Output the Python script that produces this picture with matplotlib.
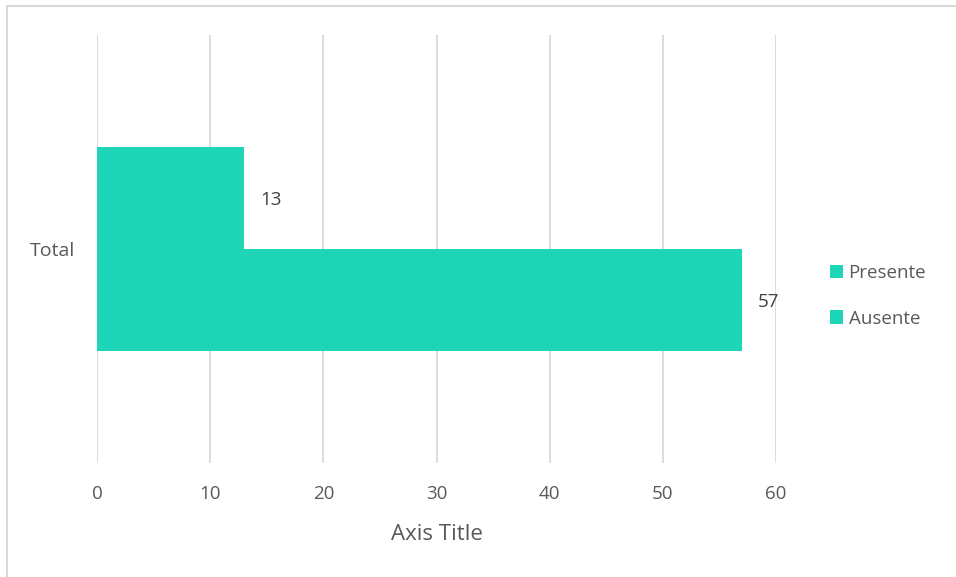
import matplotlib.pyplot as plt
from matplotlib.lines import Line2D
from matplotlib.patches import Patch

categories = ["Total"]
series_names = ["Presente", "Ausente"]
presente = [13]
ausente = [57]
xticks = [0, 10, 20, 30, 40, 50, 60]

bar_color = "#1fd5b7"
text_color = "#595959"
grid_color = "#d9d9d9"

plt.rcParams['font.family'] = ['Open Sans', 'DejaVu Sans']

W, H = 956, 577
fig = plt.figure(figsize=(W / 100, H / 100), dpi=100)

# plot area in pixels: x 97..776, y 35..463
left, right, top, bottom = 97, 776, 35, 463
ax = fig.add_axes([left / W, 1 - bottom / H, (right - left) / W, (bottom - top) / H])

bar_h = 0.238
offset = 0.119
ypos = [0.0]
ax.barh([y + offset for y in ypos], presente, height=bar_h, color=bar_color, zorder=3)
ax.barh([y - offset for y in ypos], ausente, height=bar_h, color=bar_color, zorder=3)

fs = 13.5
for y, v in zip(ypos, presente):
    ax.text(v + 1.4, y + offset - 0.005, str(v), va='center', ha='left', fontsize=fs, color="#404040")
for y, v in zip(ypos, ausente):
    ax.text(v + 1.4, y - offset - 0.005, str(v), va='center', ha='left', fontsize=fs, color="#404040")

ax.set_xlim(0, 60)
ax.set_ylim(-0.5, 0.5)
ax.set_xticks(xticks)
ax.set_xticklabels([str(t) for t in xticks], fontsize=fs, color=text_color)
ax.set_yticks(ypos)
ax.set_yticklabels(categories, fontsize=14, color=text_color)
ax.tick_params(axis='x', length=0, pad=16)
ax.tick_params(axis='y', length=0, pad=16)
ax.grid(axis='x', color=grid_color, linewidth=1.3, zorder=0)
for s in ax.spines.values():
    s.set_visible(False)
ax.set_xlabel("Axis Title", fontsize=16, color=text_color, labelpad=15)

handles = [Patch(facecolor=bar_color, edgecolor='none'), Patch(facecolor=bar_color, edgecolor='none')]
fig.legend(handles, series_names, loc='center left', bbox_to_anchor=(813 / W, 1 - 296 / H),
           frameon=False, fontsize=fs, labelcolor=text_color, handlelength=0.7,
           handleheight=0.7, handletextpad=0.3, labelspacing=1.45)

# chart border (left and top edges visible)
fig.add_artist(Line2D([7 / W, 7 / W], [0, 1 - 6 / H], color=grid_color, linewidth=1.5))
fig.add_artist(Line2D([7 / W, 1], [1 - 6 / H, 1 - 6 / H], color=grid_color, linewidth=1.5))

fig.savefig("out.png", dpi=100, facecolor="white")
